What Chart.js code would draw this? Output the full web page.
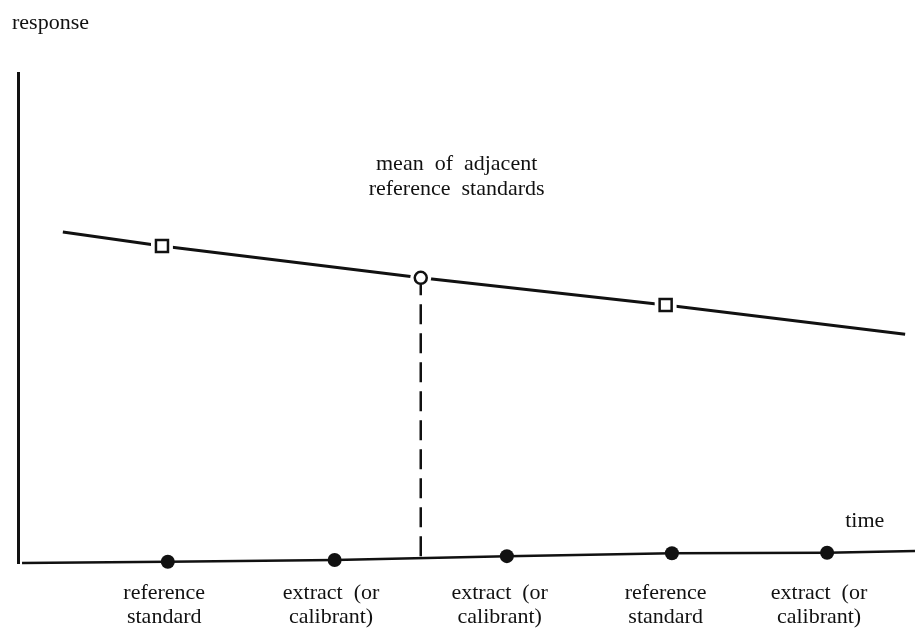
<!DOCTYPE html>
<html>
<head>
<meta charset="utf-8">
<title>response vs time</title>
<script src="https://cdn.jsdelivr.net/npm/chart.js@4.4.1/dist/chart.umd.min.js"></script>
<style>
  body { margin: 0; background: #fff; overflow: hidden; }
  canvas { display: block; }
</style>
</head>
<body>
<canvas id="myChart" width="915" height="632"></canvas>
<script>
// time runs 0..100 along the axis, response 0..100 up the axis
var ink = '#111';
var fontFamily = "'Liberation Serif', 'Times New Roman', serif";

// sloping response line (start, ref std, mean, ref std, end)
var lineTimes = [5.0, 16.05, 44.9, 72.2, 98.9];
var lineResponses = [67.55, 64.7, 58.2, 52.65, 46.7];

// reference standards (open squares) on the line
var refTimes = [16.05, 72.2];
var refResponses = [64.7, 52.65];

// mean of adjacent reference standards (open circle) and its drop line
var meanTime = 44.9;
var meanResponse = 58.2;
var dropResponses = [56.9, 1.4];

// injections along the time axis (filled dots)
var dotTimes = [16.7, 35.3, 54.5, 72.9, 90.2];
var dotResponses = [0.27, 0.6, 1.4, 2.0, 2.1];

// time axis drawn as a line, ends of it
var axisStart = {x: 0.45, y: 0};
var axisEnd = {x: 100, y: 2.45};

// tick labels under the dots
var tickTimes = [16.3, 34.9, 53.7, 72.2, 89.3];
var tickLabels = [
  ['reference', 'standard'],
  ['extract  (or', 'calibrant)'],
  ['extract  (or', 'calibrant)'],
  ['reference', 'standard'],
  ['extract  (or', 'calibrant)']
];

function pts(xs, ys) {
  var out = [];
  for (var i = 0; i < xs.length; i++) {
    out.push({x: xs[i], y: ys[i]});
  }
  return out;
}

var baseline = [axisStart].concat(pts(dotTimes, dotResponses)).concat([axisEnd]);

// text written on the plot, anchored in data units
var notes = [
  {text: 'mean  of  adjacent', x: 48.9, y: 80.2},
  {text: 'reference  standards', x: 48.9, y: 75.1},
  {text: 'time', x: 94.4, y: 7.35}
];

var notesPlugin = {
  id: 'notes',
  afterDatasetsDraw: function(chart) {
    var c = chart.ctx;
    var xs = chart.scales.x;
    var ys = chart.scales.y;
    c.save();
    c.fillStyle = ink;
    c.font = '22px ' + fontFamily;
    c.textAlign = 'center';
    c.textBaseline = 'alphabetic';
    notes.forEach(function(n) {
      c.fillText(n.text, xs.getPixelForValue(n.x), ys.getPixelForValue(n.y));
    });
    c.restore();
  }
};

var ctx = document.getElementById('myChart').getContext('2d');
var myChart = new Chart(ctx, {
  type: 'line',
  data: {
    datasets: [{
      // sloping line
      data: pts(lineTimes, lineResponses),
      borderColor: ink,
      borderWidth: 3,
      pointRadius: 0,
      tension: 0,
      fill: false,
      clip: false,
      order: 4
    }, {
      // time axis
      data: baseline,
      borderColor: ink,
      borderWidth: 2.5,
      pointRadius: 0,
      tension: 0,
      fill: false,
      clip: false,
      order: 4
    }, {
      // white gaps around the squares
      data: pts(refTimes, refResponses),
      showLine: false,
      pointStyle: 'rect',
      pointRadius: 15.5,
      pointBorderWidth: 0,
      pointBackgroundColor: '#fff',
      pointBorderColor: '#fff',
      clip: false,
      order: 3
    }, {
      // white gap around the circle
      data: [{x: meanTime, y: meanResponse}],
      showLine: false,
      pointStyle: 'circle',
      pointRadius: 10.5,
      pointBorderWidth: 0,
      pointBackgroundColor: '#fff',
      pointBorderColor: '#fff',
      clip: false,
      order: 3
    }, {
      // dashed drop line
      data: pts([meanTime, meanTime], dropResponses),
      borderColor: ink,
      borderWidth: 2.5,
      borderDash: [20, 9],
      borderDashOffset: 9,
      pointRadius: 0,
      fill: false,
      clip: false,
      order: 2
    }, {
      // reference standards
      data: pts(refTimes, refResponses),
      showLine: false,
      pointStyle: 'rect',
      pointRadius: 8.5,
      pointBorderWidth: 2.5,
      pointBackgroundColor: '#fff',
      pointBorderColor: ink,
      clip: false,
      order: 0
    }, {
      // mean
      data: [{x: meanTime, y: meanResponse}],
      showLine: false,
      pointStyle: 'circle',
      pointRadius: 6,
      pointBorderWidth: 2.5,
      pointBackgroundColor: '#fff',
      pointBorderColor: ink,
      clip: false,
      order: 0
    }, {
      // injections
      data: pts(dotTimes, dotResponses),
      showLine: false,
      pointStyle: 'circle',
      pointRadius: 7,
      pointBorderWidth: 0,
      pointBackgroundColor: ink,
      pointBorderColor: ink,
      clip: false,
      order: 0
    }]
  },
  options: {
    responsive: false,
    animation: false,
    layout: {
      autoPadding: false,
      padding: {left: 12, top: 0, right: 0, bottom: 0}
    },
    plugins: {
      legend: {display: false},
      tooltip: {enabled: false},
      title: {
        display: true,
        text: 'response',
        align: 'start',
        color: ink,
        font: {family: fontFamily, size: 22, weight: 'normal', lineHeight: 1.2},
        padding: {top: 10, bottom: 36.6}
      }
    },
    scales: {
      x: {
        type: 'linear',
        position: 'bottom',
        min: 0,
        max: 100,
        grid: {display: false, drawTicks: false},
        border: {display: false},
        afterBuildTicks: function(axis) {
          axis.ticks = tickTimes.map(function(v) { return {value: v}; });
        },
        afterFit: function(axis) {
          axis.height = 69;
          axis.paddingLeft = 0;
          axis.paddingRight = 0;
        },
        ticks: {
          autoSkip: false,
          maxRotation: 0,
          padding: 18,
          color: ink,
          font: {family: fontFamily, size: 22, lineHeight: 24 / 22},
          callback: function(value, index) {
            return tickLabels[index];
          }
        }
      },
      y: {
        type: 'linear',
        min: 0,
        max: 100,
        grid: {display: false, drawTicks: false},
        border: {display: true, color: ink, width: 3},
        ticks: {display: false},
        afterFit: function(axis) {
          axis.width = 6;
        }
      }
    }
  },
  plugins: [notesPlugin]
});
</script>
</body>
</html>
